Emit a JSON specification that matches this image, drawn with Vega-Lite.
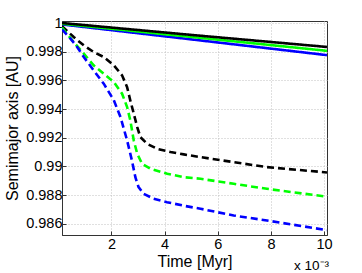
{
  "$schema": "https://vega.github.io/schema/vega-lite/v6.json",
  "width": 265,
  "height": 214,
  "autosize": {"type": "none"},
  "padding": {"left": 62, "top": 21, "right": 35, "bottom": 38},
  "background": "white",
  "config": {
    "font": "Liberation Sans",
    "view": {"stroke": "#333333", "strokeWidth": 1},
    "axis": {
      "labelFont": "Liberation Sans",
      "titleFont": "Liberation Sans",
      "labelFontSize": 14.5,
      "labelColor": "#000000",
      "titleFontSize": 16,
      "titleFontWeight": "normal",
      "titleColor": "#000000",
      "domainColor": "#333333",
      "tickColor": "#333333",
      "gridColor": "#c0c0c0",
      "gridDash": [1, 2],
      "gridWidth": 1
    }
  },
  "title": {
    "text": "x 10⁻³",
    "orient": "bottom",
    "anchor": "end",
    "frame": "group",
    "fontSize": 13.5,
    "fontWeight": "normal",
    "color": "#000000",
    "offset": -11,
    "dx": 2
  },
  "data": {
    "values": [
      {"s": "b-solid", "c": "blue", "d": "solid", "t": 0.14, "a": 0.9999},
      {"s": "b-solid", "c": "blue", "d": "solid", "t": 5.0, "a": 0.99886},
      {"s": "b-solid", "c": "blue", "d": "solid", "t": 10.11, "a": 0.99776},
      {"s": "g-solid", "c": "green", "d": "solid", "t": 0.14, "a": 0.99995},
      {"s": "g-solid", "c": "green", "d": "solid", "t": 5.0, "a": 0.99903},
      {"s": "g-solid", "c": "green", "d": "solid", "t": 10.11, "a": 0.99806},
      {"s": "k-solid", "c": "black", "d": "solid", "t": 0.14, "a": 1.0},
      {"s": "k-solid", "c": "black", "d": "solid", "t": 5.0, "a": 0.99917},
      {"s": "k-solid", "c": "black", "d": "solid", "t": 10.11, "a": 0.99833},

      {"s": "k-dash", "c": "black", "d": "dashed", "t": 0.14, "a": 0.99978},
      {"s": "k-dash", "c": "black", "d": "dashed", "t": 0.58, "a": 0.99902},
      {"s": "k-dash", "c": "black", "d": "dashed", "t": 0.96, "a": 0.99844},
      {"s": "k-dash", "c": "black", "d": "dashed", "t": 1.33, "a": 0.99798},
      {"s": "k-dash", "c": "black", "d": "dashed", "t": 1.71, "a": 0.99763},
      {"s": "k-dash", "c": "black", "d": "dashed", "t": 2.09, "a": 0.99705},
      {"s": "k-dash", "c": "black", "d": "dashed", "t": 2.40, "a": 0.99635},
      {"s": "k-dash", "c": "black", "d": "dashed", "t": 2.59, "a": 0.99553},
      {"s": "k-dash", "c": "black", "d": "dashed", "t": 2.71, "a": 0.99460},
      {"s": "k-dash", "c": "black", "d": "dashed", "t": 2.84, "a": 0.99368},
      {"s": "k-dash", "c": "black", "d": "dashed", "t": 2.97, "a": 0.99274},
      {"s": "k-dash", "c": "black", "d": "dashed", "t": 3.09, "a": 0.99204},
      {"s": "k-dash", "c": "black", "d": "dashed", "t": 3.34, "a": 0.99158},
      {"s": "k-dash", "c": "black", "d": "dashed", "t": 3.72, "a": 0.99123},
      {"s": "k-dash", "c": "black", "d": "dashed", "t": 4.22, "a": 0.99100},
      {"s": "k-dash", "c": "black", "d": "dashed", "t": 4.72, "a": 0.99084},
      {"s": "k-dash", "c": "black", "d": "dashed", "t": 5.35, "a": 0.99065},
      {"s": "k-dash", "c": "black", "d": "dashed", "t": 6.60, "a": 0.99030},
      {"s": "k-dash", "c": "black", "d": "dashed", "t": 7.85, "a": 0.98995},
      {"s": "k-dash", "c": "black", "d": "dashed", "t": 10.11, "a": 0.98958},

      {"s": "g-dash", "c": "green", "d": "dashed", "t": 0.14, "a": 0.99968},
      {"s": "g-dash", "c": "green", "d": "dashed", "t": 0.58, "a": 0.99867},
      {"s": "g-dash", "c": "green", "d": "dashed", "t": 0.96, "a": 0.99786},
      {"s": "g-dash", "c": "green", "d": "dashed", "t": 1.33, "a": 0.99705},
      {"s": "g-dash", "c": "green", "d": "dashed", "t": 1.71, "a": 0.99647},
      {"s": "g-dash", "c": "green", "d": "dashed", "t": 2.09, "a": 0.99588},
      {"s": "g-dash", "c": "green", "d": "dashed", "t": 2.40, "a": 0.99507},
      {"s": "g-dash", "c": "green", "d": "dashed", "t": 2.59, "a": 0.99414},
      {"s": "g-dash", "c": "green", "d": "dashed", "t": 2.71, "a": 0.99321},
      {"s": "g-dash", "c": "green", "d": "dashed", "t": 2.84, "a": 0.99181},
      {"s": "g-dash", "c": "green", "d": "dashed", "t": 2.97, "a": 0.99089},
      {"s": "g-dash", "c": "green", "d": "dashed", "t": 3.15, "a": 0.99019},
      {"s": "g-dash", "c": "green", "d": "dashed", "t": 3.47, "a": 0.98984},
      {"s": "g-dash", "c": "green", "d": "dashed", "t": 4.10, "a": 0.98949},
      {"s": "g-dash", "c": "green", "d": "dashed", "t": 4.72, "a": 0.98925},
      {"s": "g-dash", "c": "green", "d": "dashed", "t": 5.35, "a": 0.98914},
      {"s": "g-dash", "c": "green", "d": "dashed", "t": 6.60, "a": 0.98879},
      {"s": "g-dash", "c": "green", "d": "dashed", "t": 7.85, "a": 0.98844},
      {"s": "g-dash", "c": "green", "d": "dashed", "t": 10.11, "a": 0.98789},

      {"s": "b-dash", "c": "blue", "d": "dashed", "t": 0.14, "a": 0.99955},
      {"s": "b-dash", "c": "blue", "d": "dashed", "t": 0.46, "a": 0.99891},
      {"s": "b-dash", "c": "blue", "d": "dashed", "t": 0.71, "a": 0.99833},
      {"s": "b-dash", "c": "blue", "d": "dashed", "t": 0.96, "a": 0.99763},
      {"s": "b-dash", "c": "blue", "d": "dashed", "t": 1.33, "a": 0.99670},
      {"s": "b-dash", "c": "blue", "d": "dashed", "t": 1.71, "a": 0.99577},
      {"s": "b-dash", "c": "blue", "d": "dashed", "t": 2.09, "a": 0.99461},
      {"s": "b-dash", "c": "blue", "d": "dashed", "t": 2.34, "a": 0.99344},
      {"s": "b-dash", "c": "blue", "d": "dashed", "t": 2.59, "a": 0.99181},
      {"s": "b-dash", "c": "blue", "d": "dashed", "t": 2.77, "a": 0.99042},
      {"s": "b-dash", "c": "blue", "d": "dashed", "t": 2.90, "a": 0.98925},
      {"s": "b-dash", "c": "blue", "d": "dashed", "t": 3.02, "a": 0.98856},
      {"s": "b-dash", "c": "blue", "d": "dashed", "t": 3.21, "a": 0.98809},
      {"s": "b-dash", "c": "blue", "d": "dashed", "t": 3.59, "a": 0.98775},
      {"s": "b-dash", "c": "blue", "d": "dashed", "t": 4.09, "a": 0.98751},
      {"s": "b-dash", "c": "blue", "d": "dashed", "t": 4.72, "a": 0.98726},
      {"s": "b-dash", "c": "blue", "d": "dashed", "t": 5.35, "a": 0.98705},
      {"s": "b-dash", "c": "blue", "d": "dashed", "t": 6.60, "a": 0.98658},
      {"s": "b-dash", "c": "blue", "d": "dashed", "t": 7.85, "a": 0.98623},
      {"s": "b-dash", "c": "blue", "d": "dashed", "t": 10.11, "a": 0.98556}
    ]
  },
  "layer": [
    {
      "mark": {"type": "line", "strokeWidth": 2.6, "clip": true},
      "encoding": {
        "x": {
          "field": "t", "type": "quantitative",
          "scale": {"domain": [0.14, 10.11], "nice": false, "zero": false},
          "axis": {
            "title": "Time [Myr]",
            "values": [2, 4, 6, 8, 10],
            "format": "d",
            "grid": true,
            "tickSize": -4,
            "labelPadding": 6,
            "titlePadding": 3
          }
        },
        "y": {
          "field": "a", "type": "quantitative",
          "scale": {"domain": [0.98522, 1.00014], "nice": false, "zero": false},
          "axis": {
            "title": "Semimajor axis [AU]",
            "values": [0.986, 0.988, 0.99, 0.992, 0.994, 0.996, 0.998, 1.0],
            "format": ".3~f",
            "grid": true,
            "tickSize": -4,
            "labelPadding": 4,
            "titlePadding": 5
          }
        },
        "color": {
          "field": "c", "type": "nominal",
          "scale": {"domain": ["black", "green", "blue"], "range": ["#000000", "#00ff00", "#0000ff"]},
          "legend": null
        },
        "strokeDash": {
          "field": "d", "type": "nominal",
          "scale": {"domain": ["solid", "dashed"], "range": [[1, 0], [7, 4]]},
          "legend": null
        },
        "detail": {"field": "s", "type": "nominal"}
      }
    }
  ]
}
